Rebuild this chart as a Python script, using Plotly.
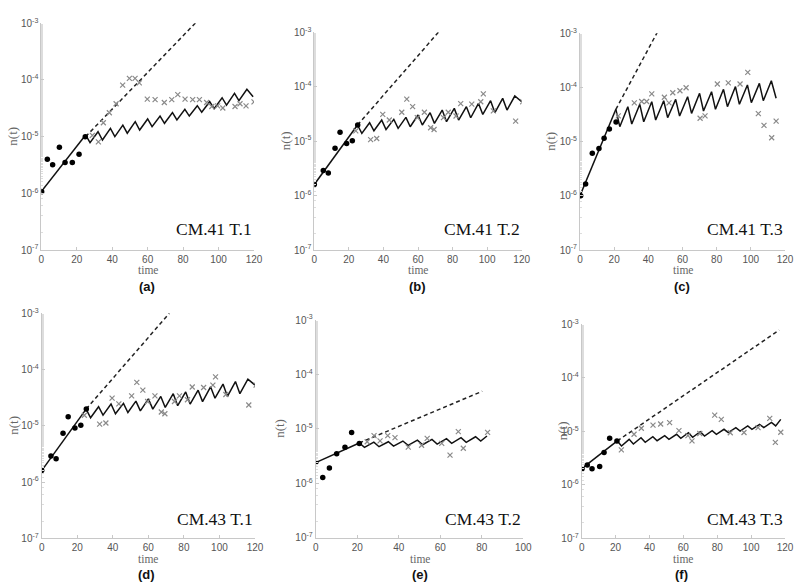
import plotly.graph_objects as go

# ---------------- data ----------------
# Panel (a) CM.41 T.1
a_dot_t = [0.2, 3.4, 6.4, 10.2, 13.4, 17.5, 21.3, 24.8]
a_dot_n = [1.07e-6, 4.0e-6, 3.2e-6, 6.5e-6, 3.5e-6, 3.5e-6, 4.9e-6, 1.0e-5]
a_x_t = [28.8, 32.2, 35.0, 38.4, 42.2, 45.9, 49.7, 52.9, 55.3, 59.8, 64.2, 69.4, 73.6, 77.0,
         81.1, 85.4, 89.2, 93.3, 96.2, 99.5, 102.4, 109.3, 112.1, 115.5, 120.0]
a_x_n = [1.05e-5, 8.1e-6, 1.76e-5, 2.64e-5, 3.8e-5, 8.1e-5, 1.07e-4, 1.07e-4, 8.9e-5, 4.6e-5,
         4.5e-5, 4.0e-5, 4.5e-5, 5.5e-5, 4.6e-5, 4.5e-5, 4.5e-5, 4.0e-5, 3.4e-5, 3.5e-5,
         3.2e-5, 3.4e-5, 3.8e-5, 3.5e-5, 4.1e-5]
a_fit_t = [0, 25]
a_fit_n = [1.07e-6, 1.07e-5]
a_dash_t = [25, 87.7]
a_dash_n = [1.0e-5, 1.07e-3]
a_peak_t = [25, 32, 39, 46, 53, 60, 67, 74, 81, 88, 95, 102, 109, 116]
a_peak_n = [1.07e-5, 1.22e-5, 1.40e-5, 1.60e-5, 1.84e-5, 2.05e-5, 2.31e-5, 2.65e-5, 3.03e-5,
            3.52e-5, 4.14e-5, 4.86e-5, 5.81e-5, 6.84e-5]
a_trough_t = [27.5, 34.5, 41.5, 48.5, 55.5, 62.5, 69.5, 76.5, 83.5, 90.5, 97.5, 104.5, 111.5, 119.5]
a_trough_n = [7.82e-6, 8.73e-6, 1.0e-5, 1.15e-5, 1.31e-5, 1.50e-5, 1.72e-5, 1.97e-5, 2.31e-5,
              2.69e-5, 3.11e-5, 3.61e-5, 4.31e-5, 5.07e-5]

# Panel (b) CM.41 T.2
b_dot_t = [0, 5.2, 8.1, 12.0, 14.9, 18.7, 22.0, 25.1]
b_dot_n = [1.6e-6, 2.9e-6, 2.6e-6, 7.4e-6, 1.45e-5, 9.1e-6, 1.02e-5, 1.98e-5]
b_x_t = [24.0, 32.6, 36.1, 39.6, 43.4, 50.6, 53.5, 56.9, 59.6, 63.7, 67.3, 69.3, 74.7, 77.5,
         82.0, 84.7, 91.1, 96.3, 97.8, 103.6, 116.5, 120.6]
b_x_n = [1.54e-5, 1.07e-5, 1.12e-5, 3.1e-5, 2.45e-5, 3.4e-5, 5.9e-5, 4.3e-5, 2.7e-5, 3.4e-5,
         1.76e-5, 1.64e-5, 2.7e-5, 3.4e-5, 2.9e-5, 4.9e-5, 4.8e-5, 5.3e-5, 7.4e-5, 3.6e-5,
         2.34e-5, 5.3e-5]
b_fit_t = [0, 25]
b_fit_n = [1.6e-6, 1.98e-5]
b_dash_t = [25, 71.8]
b_dash_n = [1.98e-5, 1.0e-3]
b_peak_t = [25, 32, 39, 46, 53, 60, 67, 74, 81, 88, 95, 102, 109, 116]
b_peak_n = [1.98e-5, 2.18e-5, 2.44e-5, 2.51e-5, 2.74e-5, 3.02e-5, 3.33e-5, 3.73e-5, 4.0e-5,
            4.30e-5, 4.94e-5, 5.53e-5, 6.11e-5, 6.75e-5]
b_trough_t = [27.5, 34.5, 41.5, 48.5, 55.5, 62.5, 69.5, 76.5, 83.5, 90.5, 97.5, 104.5, 111.5, 120.0]
b_trough_n = [1.39e-5, 1.55e-5, 1.64e-5, 1.72e-5, 1.84e-5, 1.98e-5, 2.12e-5, 2.28e-5, 2.44e-5,
              2.69e-5, 3.10e-5, 3.33e-5, 3.73e-5, 5.30e-5]

# Panel (c) CM.41 T.3
c_dot_t = [0.4, 3.3, 7.2, 11.1, 14.1, 17.2, 21.1]
c_dot_n = [1.0e-6, 1.65e-6, 6.1e-6, 7.5e-6, 1.15e-5, 1.71e-5, 2.3e-5]
c_x_t = [22.4, 31.8, 36.1, 39.0, 42.0, 49.4, 52.1, 54.3, 58.5, 62.1, 70.3, 73.2, 80.4, 86.8,
         93.7, 98.2, 104.4, 107.7, 112.2, 114.8]
c_x_n = [3.0e-5, 5.2e-5, 5.5e-5, 5.5e-5, 7.6e-5, 6.6e-5, 5.2e-5, 8.0e-5, 8.7e-5, 9.9e-5,
         2.7e-5, 3.0e-5, 1.16e-4, 1.22e-4, 1.16e-4, 1.9e-4, 3.3e-5, 2.0e-5, 1.18e-5, 2.4e-5]
c_fit_t = [0, 21]
c_fit_n = [1.0e-6, 3.95e-5]
c_dash_t = [21, 45.3]
c_dash_n = [3.95e-5, 1.05e-3]
c_peak_t = [21, 28, 35, 42, 49, 56, 63, 70, 77, 84, 91, 98, 105, 112]
c_peak_n = [3.95e-5, 4.42e-5, 4.89e-5, 5.47e-5, 5.70e-5, 6.04e-5, 6.76e-5, 7.80e-5, 8.36e-5,
            9.25e-5, 1.04e-4, 1.11e-4, 1.19e-4, 1.33e-4]
c_trough_t = [23.3, 30.3, 37.3, 44.3, 51.3, 58.3, 65.3, 72.3, 79.3, 86.3, 93.3, 100.3, 107.3, 114.8]
c_trough_n = [1.89e-5, 2.12e-5, 2.33e-5, 2.51e-5, 2.77e-5, 2.97e-5, 3.33e-5, 3.68e-5, 3.95e-5,
              4.42e-5, 4.89e-5, 5.24e-5, 5.70e-5, 6.31e-5]

# Panel (d) CM.43 T.1 (same values as drawn in panel b)
d_dot_t = [0, 5.2, 8.1, 12.0, 14.9, 18.7, 22.0, 25.1]
d_dot_n = [1.6e-6, 2.9e-6, 2.6e-6, 7.4e-6, 1.45e-5, 9.1e-6, 1.02e-5, 1.98e-5]
d_x_t = [24.0, 32.6, 36.1, 39.6, 43.4, 50.6, 53.5, 56.9, 59.6, 63.7, 67.3, 69.3, 74.7, 77.5,
         82.0, 84.7, 91.1, 96.3, 97.8, 103.6, 116.5, 120.6]
d_x_n = [1.54e-5, 1.07e-5, 1.12e-5, 3.1e-5, 2.45e-5, 3.4e-5, 5.9e-5, 4.3e-5, 2.7e-5, 3.4e-5,
         1.76e-5, 1.64e-5, 2.7e-5, 3.4e-5, 2.9e-5, 4.9e-5, 4.8e-5, 5.3e-5, 7.4e-5, 3.6e-5,
         2.34e-5, 5.3e-5]
d_fit_t = [0, 25]
d_fit_n = [1.6e-6, 1.98e-5]
d_dash_t = [25, 71.8]
d_dash_n = [1.98e-5, 1.0e-3]
d_peak_t = [25, 32, 39, 46, 53, 60, 67, 74, 81, 88, 95, 102, 109, 116]
d_peak_n = [1.98e-5, 2.18e-5, 2.44e-5, 2.51e-5, 2.74e-5, 3.02e-5, 3.33e-5, 3.73e-5, 4.0e-5,
            4.30e-5, 4.94e-5, 5.53e-5, 6.11e-5, 6.75e-5]
d_trough_t = [27.5, 34.5, 41.5, 48.5, 55.5, 62.5, 69.5, 76.5, 83.5, 90.5, 97.5, 104.5, 111.5, 120.0]
d_trough_n = [1.39e-5, 1.55e-5, 1.64e-5, 1.72e-5, 1.84e-5, 1.98e-5, 2.12e-5, 2.28e-5, 2.44e-5,
              2.69e-5, 3.10e-5, 3.33e-5, 3.73e-5, 5.30e-5]

# Panel (e) CM.43 T.2
e_dot_t = [0, 3.4, 6.6, 10.1, 14.1, 17.3, 21.0]
e_dot_n = [2.4e-6, 1.28e-6, 1.9e-6, 3.5e-6, 4.6e-6, 8.6e-6, 5.4e-6]
e_x_t = [24.8, 28.1, 31.0, 34.7, 38.2, 44.6, 51.0, 53.7, 60.7, 64.7, 68.7, 71.1, 82.8]
e_x_n = [5.8e-6, 7.5e-6, 6.0e-6, 7.5e-6, 6.9e-6, 4.6e-6, 5.0e-6, 6.7e-6, 5.4e-6, 3.3e-6,
         8.9e-6, 4.4e-6, 8.6e-6]
e_fit_t = [0, 21]
e_fit_n = [2.4e-6, 5.5e-6]
e_dash_t = [21, 80.2]
e_dash_n = [5.5e-6, 4.9e-5]
e_peak_t = [21, 28, 35, 42, 49, 56, 63, 70, 77, 82.5]
e_peak_n = [5.5e-6, 5.71e-6, 5.79e-6, 5.97e-6, 6.22e-6, 6.40e-6, 6.59e-6, 6.87e-6, 7.16e-6, 7.38e-6]
e_trough_t = [23.5, 30.5, 37.5, 44.5, 51.5, 58.5, 65.5, 72.5, 79.5]
e_trough_n = [4.56e-6, 4.70e-6, 4.83e-6, 4.97e-6, 5.11e-6, 5.26e-6, 5.41e-6, 5.64e-6, 5.97e-6]

# Panel (f) CM.43 T.3
f_dot_t = [0.2, 3.3, 6.1, 10.6, 13.2, 16.5, 20.8]
f_dot_n = [2.0e-6, 2.34e-6, 2.0e-6, 2.2e-6, 4.0e-6, 7.4e-6, 6.6e-6]
f_x_t = [23.4, 30.9, 35.2, 42.1, 46.6, 51.9, 57.4, 62.7, 65.1, 69.7, 78.5, 82.4, 87.7, 95.8,
         104.1, 111.0, 114.3, 117.5]
f_x_n = [4.5e-6, 8.8e-6, 1.14e-5, 1.3e-5, 1.37e-5, 1.45e-5, 1.03e-5, 8.3e-6, 6.6e-6, 9.1e-6,
         2.0e-5, 1.67e-5, 9.4e-6, 9.5e-6, 1.17e-5, 1.75e-5, 6.2e-6, 9.6e-6]
f_fit_t = [0, 21]
f_fit_n = [2.0e-6, 6.6e-6]
f_dash_t = [21, 116.6]
f_dash_n = [6.6e-6, 7.8e-4]
f_peak_t = [21, 28, 35, 42, 49, 56, 63, 70, 77, 84, 91, 98, 105, 112, 117.5]
f_peak_n = [6.59e-6, 7.08e-6, 7.60e-6, 7.92e-6, 8.28e-6, 8.79e-6, 9.42e-6, 9.84e-6, 1.03e-5,
            1.09e-5, 1.17e-5, 1.26e-5, 1.35e-5, 1.47e-5, 1.67e-5]
f_trough_t = [23.5, 30.5, 37.5, 44.5, 51.5, 58.5, 65.5, 72.5, 79.5, 86.5, 93.5, 100.5, 107.5, 114.5]
f_trough_n = [5.31e-6, 5.79e-6, 6.22e-6, 6.67e-6, 7.08e-6, 7.40e-6, 7.73e-6, 8.17e-6, 8.79e-6,
              9.42e-6, 1.01e-5, 1.09e-5, 1.17e-5, 1.26e-5]

panel_names = ["CM.41 T.1", "CM.41 T.2", "CM.41 T.3", "CM.43 T.1", "CM.43 T.2", "CM.43 T.3"]
panel_letters = ["(a)", "(b)", "(c)", "(d)", "(e)", "(f)"]
x_ranges = [[0, 120], [0, 120], [0, 120], [0, 120], [0, 100], [0, 120]]
y_tick_vals = [1e-7, 1e-6, 1e-5, 1e-4, 1e-3]
y_tick_text = ["10<sup>-7</sup>", "10<sup>-6</sup>", "10<sup>-5</sup>", "10<sup>-4</sup>", "10<sup>-3</sup>"]

panels = [
    (a_dot_t, a_dot_n, a_x_t, a_x_n, a_fit_t, a_fit_n, a_dash_t, a_dash_n, a_peak_t, a_peak_n, a_trough_t, a_trough_n),
    (b_dot_t, b_dot_n, b_x_t, b_x_n, b_fit_t, b_fit_n, b_dash_t, b_dash_n, b_peak_t, b_peak_n, b_trough_t, b_trough_n),
    (c_dot_t, c_dot_n, c_x_t, c_x_n, c_fit_t, c_fit_n, c_dash_t, c_dash_n, c_peak_t, c_peak_n, c_trough_t, c_trough_n),
    (d_dot_t, d_dot_n, d_x_t, d_x_n, d_fit_t, d_fit_n, d_dash_t, d_dash_n, d_peak_t, d_peak_n, d_trough_t, d_trough_n),
    (e_dot_t, e_dot_n, e_x_t, e_x_n, e_fit_t, e_fit_n, e_dash_t, e_dash_n, e_peak_t, e_peak_n, e_trough_t, e_trough_n),
    (f_dot_t, f_dot_n, f_x_t, f_x_n, f_fit_t, f_fit_n, f_dash_t, f_dash_n, f_peak_t, f_peak_n, f_trough_t, f_trough_n),
]

# ---------------- layout geometry (pixels) ----------------
W, H = 800, 583
# (left, right, top, bottom) of each plot box
boxes = [
    (41.3, 254.0, 23.3, 250.0),
    (314.3, 521.7, 32.3, 250.0),
    (580.0, 785.0, 33.3, 250.0),
    (41.7, 255.0, 313.3, 538.3),
    (315.7, 523.3, 320.0, 537.7),
    (581.7, 785.0, 324.3, 538.3),
]
ylabel_x = [13, 285, 551, 14, 280, 562]
letter_pos = [(147, 286), (417, 286), (682, 286), (146, 574), (420, 574), (681, 574)]

fig = go.Figure()
layout = dict(
    template="none",
    width=W, height=H, margin=dict(l=0, r=0, t=0, b=0, pad=0), autosize=False,
    paper_bgcolor="white", plot_bgcolor="white", showlegend=False,
)
annotations = []
AX_COL = "#c8c8c8"
TICK_FONT = dict(family="Liberation Sans, Arial", size=10, color="#555555")
SERIF = "Liberation Serif, Times New Roman"

for i, (dt, dn, xt, xn, ft, fn, st, sn, pt, pn, tt, tn) in enumerate(panels):
    k = "" if i == 0 else str(i + 1)
    xref, yref = "x" + k, "y" + k
    # interleave peaks and troughs into the sawtooth vertex list
    saw_t, saw_n = [], []
    for j in range(max(len(pt), len(tt))):
        if j < len(pt):
            saw_t.append(pt[j]); saw_n.append(pn[j])
        if j < len(tt):
            saw_t.append(tt[j]); saw_n.append(tn[j])
    fig.add_trace(go.Scatter(x=st, y=sn, mode="lines", xaxis=xref, yaxis=yref,
                             line=dict(color="#222222", width=1.5, dash="4px,3px")))
    fig.add_trace(go.Scatter(x=saw_t, y=saw_n, mode="lines", xaxis=xref, yaxis=yref,
                             line=dict(color="#111111", width=1.5)))
    fig.add_trace(go.Scatter(x=ft, y=fn, mode="lines", xaxis=xref, yaxis=yref,
                             line=dict(color="#111111", width=1.5)))
    fig.add_trace(go.Scatter(x=xt, y=xn, mode="markers", xaxis=xref, yaxis=yref,
                             marker=dict(symbol="x-thin", size=5, line=dict(color="#8a8a8a", width=1.2))))
    fig.add_trace(go.Scatter(x=dt, y=dn, mode="markers", xaxis=xref, yaxis=yref,
                             marker=dict(symbol="circle", size=5.5, color="black")))

    l, r, t, b = boxes[i]
    layout["xaxis" + k] = dict(
        domain=[l / W, r / W], anchor=yref, range=x_ranges[i], automargin=False,
        dtick=20, showgrid=False, zeroline=False, showline=True, linecolor=AX_COL, linewidth=1,
        ticks="inside", ticklen=3, tickcolor=AX_COL, tickfont=TICK_FONT, mirror=False,
    )
    layout["yaxis" + k] = dict(
        domain=[1 - b / H, 1 - t / H], anchor=xref, type="log", range=[-7, -3], automargin=False,
        tickvals=y_tick_vals, ticktext=y_tick_text, showgrid=False, zeroline=False,
        showline=True, linecolor=AX_COL, linewidth=1, ticks="inside", ticklen=3,
        tickcolor=AX_COL, tickfont=TICK_FONT,
        minor=dict(ticks="inside", ticklen=2, tickcolor="#dddddd", showgrid=False),
    )
    # panel name
    annotations.append(dict(xref="paper", yref="paper", x=r / W, y=1 - 229 / H if i < 3 else 1 - 519 / H,
                            xanchor="right", yanchor="middle", showarrow=False, text=panel_names[i],
                            font=dict(family=SERIF, size=17.5, color="#111111")))
    # axis titles
    yt = 270.5 if i < 3 else 558.5
    annotations.append(dict(xref="paper", yref="paper", x=(l + r) / 2 / W, y=1 - yt / H,
                            xanchor="center", yanchor="middle", showarrow=False, text="time",
                            font=dict(family=SERIF, size=11.5, color="#666666")))
    annotations.append(dict(xref="paper", yref="paper", x=ylabel_x[i] / W, y=1 - (t + b) / 2 / H,
                            xanchor="center", yanchor="middle", showarrow=False, text="n(t)",
                            textangle=-90, font=dict(family=SERIF, size=13, color="#666666")))
    lx, ly = letter_pos[i]
    annotations.append(dict(xref="paper", yref="paper", x=lx / W, y=1 - ly / H,
                            xanchor="center", yanchor="middle", showarrow=False, text="<b>" + panel_letters[i] + "</b>",
                            font=dict(family="Liberation Sans, Arial", size=13, color="#111111")))

layout["annotations"] = annotations
fig.update_layout(**layout)
fig.write_html(
    "out.html",
    config={"displayModeBar": False},
    post_script="document.body.style.margin='0';document.body.style.padding='0';document.body.style.overflow='hidden';",
)
